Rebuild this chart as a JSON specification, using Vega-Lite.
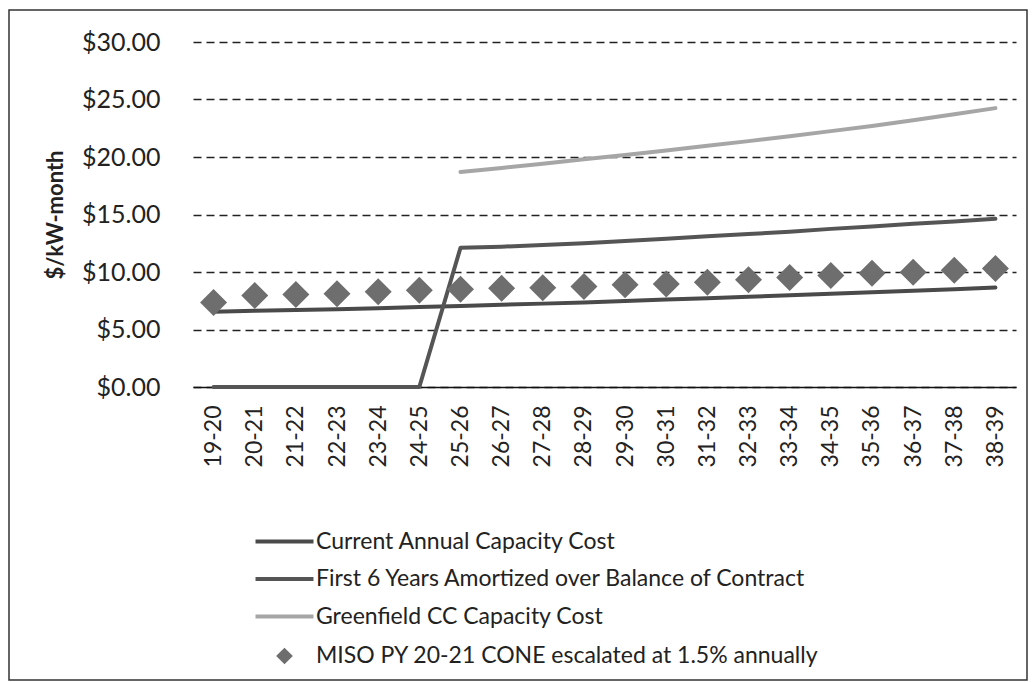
{
  "$schema": "https://vega.github.io/schema/vega-lite/v6.json",
  "width": 823,
  "height": 345,
  "autosize": {"type": "none"},
  "padding": {"left": 193, "top": 42, "right": 19, "bottom": 295},
  "background": "white",
  "config": {"view": {"stroke": null}, "font": "Lato"},
  "data": {"values": [
    {"period": "19-20", "series": "Current Annual Capacity Cost", "value": 6.55},
    {"period": "20-21", "series": "Current Annual Capacity Cost", "value": 6.62},
    {"period": "21-22", "series": "Current Annual Capacity Cost", "value": 6.70},
    {"period": "22-23", "series": "Current Annual Capacity Cost", "value": 6.77},
    {"period": "23-24", "series": "Current Annual Capacity Cost", "value": 6.85},
    {"period": "24-25", "series": "Current Annual Capacity Cost", "value": 6.95},
    {"period": "25-26", "series": "Current Annual Capacity Cost", "value": 7.05},
    {"period": "26-27", "series": "Current Annual Capacity Cost", "value": 7.15},
    {"period": "27-28", "series": "Current Annual Capacity Cost", "value": 7.25},
    {"period": "28-29", "series": "Current Annual Capacity Cost", "value": 7.35},
    {"period": "29-30", "series": "Current Annual Capacity Cost", "value": 7.47},
    {"period": "30-31", "series": "Current Annual Capacity Cost", "value": 7.60},
    {"period": "31-32", "series": "Current Annual Capacity Cost", "value": 7.72},
    {"period": "32-33", "series": "Current Annual Capacity Cost", "value": 7.85},
    {"period": "33-34", "series": "Current Annual Capacity Cost", "value": 7.98},
    {"period": "34-35", "series": "Current Annual Capacity Cost", "value": 8.10},
    {"period": "35-36", "series": "Current Annual Capacity Cost", "value": 8.23},
    {"period": "36-37", "series": "Current Annual Capacity Cost", "value": 8.37},
    {"period": "37-38", "series": "Current Annual Capacity Cost", "value": 8.50},
    {"period": "38-39", "series": "Current Annual Capacity Cost", "value": 8.65},
    {"period": "19-20", "series": "First 6 Years Amortized over Balance of Contract", "value": 0},
    {"period": "20-21", "series": "First 6 Years Amortized over Balance of Contract", "value": 0},
    {"period": "21-22", "series": "First 6 Years Amortized over Balance of Contract", "value": 0},
    {"period": "22-23", "series": "First 6 Years Amortized over Balance of Contract", "value": 0},
    {"period": "23-24", "series": "First 6 Years Amortized over Balance of Contract", "value": 0},
    {"period": "24-25", "series": "First 6 Years Amortized over Balance of Contract", "value": 0},
    {"period": "25-26", "series": "First 6 Years Amortized over Balance of Contract", "value": 12.1},
    {"period": "26-27", "series": "First 6 Years Amortized over Balance of Contract", "value": 12.2},
    {"period": "27-28", "series": "First 6 Years Amortized over Balance of Contract", "value": 12.35},
    {"period": "28-29", "series": "First 6 Years Amortized over Balance of Contract", "value": 12.5},
    {"period": "29-30", "series": "First 6 Years Amortized over Balance of Contract", "value": 12.7},
    {"period": "30-31", "series": "First 6 Years Amortized over Balance of Contract", "value": 12.9},
    {"period": "31-32", "series": "First 6 Years Amortized over Balance of Contract", "value": 13.1},
    {"period": "32-33", "series": "First 6 Years Amortized over Balance of Contract", "value": 13.3},
    {"period": "33-34", "series": "First 6 Years Amortized over Balance of Contract", "value": 13.5},
    {"period": "34-35", "series": "First 6 Years Amortized over Balance of Contract", "value": 13.75},
    {"period": "35-36", "series": "First 6 Years Amortized over Balance of Contract", "value": 13.95},
    {"period": "36-37", "series": "First 6 Years Amortized over Balance of Contract", "value": 14.2},
    {"period": "37-38", "series": "First 6 Years Amortized over Balance of Contract", "value": 14.4},
    {"period": "38-39", "series": "First 6 Years Amortized over Balance of Contract", "value": 14.62},
    {"period": "25-26", "series": "Greenfield CC Capacity Cost", "value": 18.7},
    {"period": "26-27", "series": "Greenfield CC Capacity Cost", "value": 19.05},
    {"period": "27-28", "series": "Greenfield CC Capacity Cost", "value": 19.42},
    {"period": "28-29", "series": "Greenfield CC Capacity Cost", "value": 19.8},
    {"period": "29-30", "series": "Greenfield CC Capacity Cost", "value": 20.18},
    {"period": "30-31", "series": "Greenfield CC Capacity Cost", "value": 20.57},
    {"period": "31-32", "series": "Greenfield CC Capacity Cost", "value": 20.97},
    {"period": "32-33", "series": "Greenfield CC Capacity Cost", "value": 21.38},
    {"period": "33-34", "series": "Greenfield CC Capacity Cost", "value": 21.8},
    {"period": "34-35", "series": "Greenfield CC Capacity Cost", "value": 22.25},
    {"period": "35-36", "series": "Greenfield CC Capacity Cost", "value": 22.7},
    {"period": "36-37", "series": "Greenfield CC Capacity Cost", "value": 23.2},
    {"period": "37-38", "series": "Greenfield CC Capacity Cost", "value": 23.72},
    {"period": "38-39", "series": "Greenfield CC Capacity Cost", "value": 24.25},
    {"period": "19-20", "series": "MISO PY 20-21 CONE escalated at 1.5% annually", "value": 7.35},
    {"period": "20-21", "series": "MISO PY 20-21 CONE escalated at 1.5% annually", "value": 7.95},
    {"period": "21-22", "series": "MISO PY 20-21 CONE escalated at 1.5% annually", "value": 8.05},
    {"period": "22-23", "series": "MISO PY 20-21 CONE escalated at 1.5% annually", "value": 8.1},
    {"period": "23-24", "series": "MISO PY 20-21 CONE escalated at 1.5% annually", "value": 8.28},
    {"period": "24-25", "series": "MISO PY 20-21 CONE escalated at 1.5% annually", "value": 8.42},
    {"period": "25-26", "series": "MISO PY 20-21 CONE escalated at 1.5% annually", "value": 8.5},
    {"period": "26-27", "series": "MISO PY 20-21 CONE escalated at 1.5% annually", "value": 8.58},
    {"period": "27-28", "series": "MISO PY 20-21 CONE escalated at 1.5% annually", "value": 8.62},
    {"period": "28-29", "series": "MISO PY 20-21 CONE escalated at 1.5% annually", "value": 8.75},
    {"period": "29-30", "series": "MISO PY 20-21 CONE escalated at 1.5% annually", "value": 8.9},
    {"period": "30-31", "series": "MISO PY 20-21 CONE escalated at 1.5% annually", "value": 8.95},
    {"period": "31-32", "series": "MISO PY 20-21 CONE escalated at 1.5% annually", "value": 9.1},
    {"period": "32-33", "series": "MISO PY 20-21 CONE escalated at 1.5% annually", "value": 9.33},
    {"period": "33-34", "series": "MISO PY 20-21 CONE escalated at 1.5% annually", "value": 9.52},
    {"period": "34-35", "series": "MISO PY 20-21 CONE escalated at 1.5% annually", "value": 9.7},
    {"period": "35-36", "series": "MISO PY 20-21 CONE escalated at 1.5% annually", "value": 9.9},
    {"period": "36-37", "series": "MISO PY 20-21 CONE escalated at 1.5% annually", "value": 9.97},
    {"period": "37-38", "series": "MISO PY 20-21 CONE escalated at 1.5% annually", "value": 10.15},
    {"period": "38-39", "series": "MISO PY 20-21 CONE escalated at 1.5% annually", "value": 10.3}
  ]},
  "encoding": {
    "x": {
      "field": "period", "type": "ordinal",
      "scale": {"domain": ["19-20","20-21","21-22","22-23","23-24","24-25","25-26","26-27","27-28","28-29","29-30","30-31","31-32","32-33","33-34","34-35","35-36","36-37","37-38","38-39"]},
      "axis": {"title": null, "labelAngle": -90, "labelFont": "Lato", "labelFontSize": 23, "labelColor": "#222", "labelPadding": 18, "ticks": false, "domainColor": "#111", "domainWidth": 1.5, "grid": false}
    },
    "y": {
      "field": "value", "type": "quantitative",
      "scale": {"domain": [0, 30], "nice": false},
      "axis": {"title": "$/kW-month", "values": [0,5,10,15,20,25,30], "format": "$.2f", "labelFont": "Lato", "labelFontSize": 25, "labelColor": "#222", "labelPadding": 33, "ticks": false, "domain": false, "grid": true, "gridColor": "#222", "gridDash": [8,5], "gridWidth": 1.3, "titleFont": "Lato", "titleFontSize": 22, "titleFontWeight": "bold", "titleColor": "#222", "titlePadding": 14}
    }
  },
  "layer": [
    {
      "data": {"values": [{"frame": 1}]},
      "mark": {"type": "rect", "fill": "transparent", "stroke": "#333", "strokeWidth": 1.5, "clip": false},
      "encoding": {"x": {"value": -184}, "x2": {"value": 834}, "y": {"value": -32}, "y2": {"value": 638}}
    },
    {
      "transform": [{"filter": "datum.series !== 'MISO PY 20-21 CONE escalated at 1.5% annually'"}],
      "mark": {"type": "line", "strokeWidth": 4, "strokeCap": "round", "strokeJoin": "round"},
      "encoding": {
        "color": {
          "field": "series", "type": "nominal",
          "scale": {"domain": ["Current Annual Capacity Cost","First 6 Years Amortized over Balance of Contract","Greenfield CC Capacity Cost","MISO PY 20-21 CONE escalated at 1.5% annually"], "range": ["#4a4a4a","#555555","#a6a6a6","#6e6e6e"]},
          "legend": {
            "title": null, "orient": "none", "legendX": 80, "legendY": 488, "direction": "vertical", "padding": 0,
            "symbolSize": 121, "symbolStrokeWidth": 4, "labelFont": "Lato", "labelFontSize": 23, "labelColor": "#222", "labelOffset": 20, "labelLimit": 700, "rowPadding": 13.5,
            "encode": {"symbols": {"update": {
              "shape": {"signal": "datum.value === 'MISO PY 20-21 CONE escalated at 1.5% annually' ? 'diamond' : 'M-5.27,0H5.27'"},
              "fill": {"signal": "datum.value === 'MISO PY 20-21 CONE escalated at 1.5% annually' ? '#6e6e6e' : 'transparent'"},
              "stroke": {"signal": "datum.value === 'MISO PY 20-21 CONE escalated at 1.5% annually' ? 'transparent' : (datum.value === 'Greenfield CC Capacity Cost' ? '#a6a6a6' : (datum.value === 'First 6 Years Amortized over Balance of Contract' ? '#555555' : '#4a4a4a'))"},
              "opacity": {"value": 1}
            }}}
          }
        }
      }
    },
    {
      "transform": [{"filter": "datum.series === 'MISO PY 20-21 CONE escalated at 1.5% annually'"}],
      "mark": {"type": "point", "shape": "diamond", "filled": true, "size": 729, "opacity": 1},
      "encoding": {
        "color": {
          "field": "series", "type": "nominal",
          "scale": {"domain": ["Current Annual Capacity Cost","First 6 Years Amortized over Balance of Contract","Greenfield CC Capacity Cost","MISO PY 20-21 CONE escalated at 1.5% annually"], "range": ["#4a4a4a","#555555","#a6a6a6","#6e6e6e"]},
          "legend": {
            "title": null, "orient": "none", "legendX": 80, "legendY": 488, "direction": "vertical", "padding": 0,
            "symbolSize": 121, "symbolStrokeWidth": 4, "labelFont": "Lato", "labelFontSize": 23, "labelColor": "#222", "labelOffset": 20, "labelLimit": 700, "rowPadding": 13.5,
            "encode": {"symbols": {"update": {
              "shape": {"signal": "datum.value === 'MISO PY 20-21 CONE escalated at 1.5% annually' ? 'diamond' : 'M-5.27,0H5.27'"},
              "fill": {"signal": "datum.value === 'MISO PY 20-21 CONE escalated at 1.5% annually' ? '#6e6e6e' : 'transparent'"},
              "stroke": {"signal": "datum.value === 'MISO PY 20-21 CONE escalated at 1.5% annually' ? 'transparent' : (datum.value === 'Greenfield CC Capacity Cost' ? '#a6a6a6' : (datum.value === 'First 6 Years Amortized over Balance of Contract' ? '#555555' : '#4a4a4a'))"},
              "opacity": {"value": 1}
            }}}
          }
        }
      }
    }
  ]
}
